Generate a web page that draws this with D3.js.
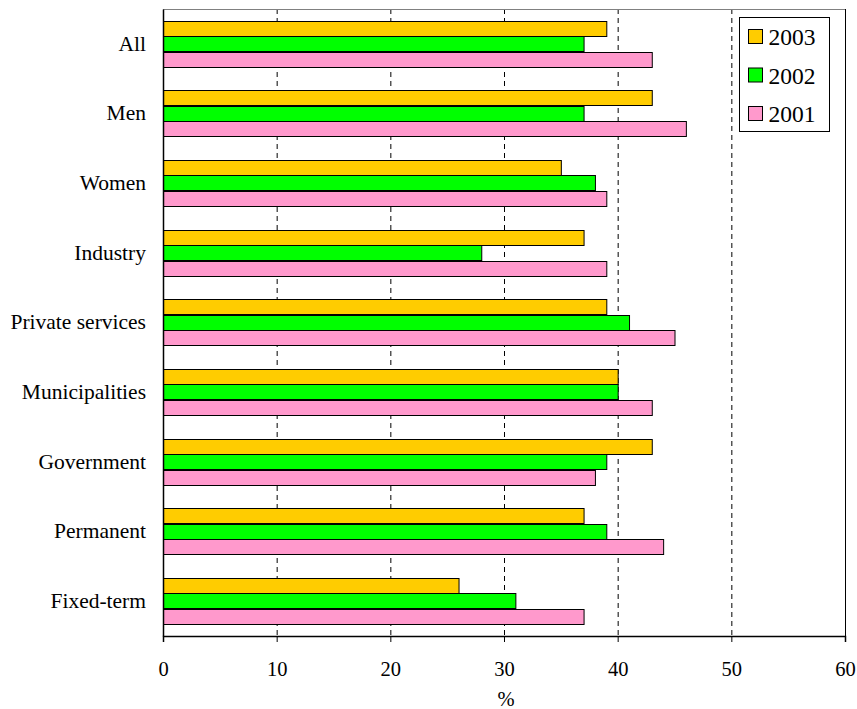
<!DOCTYPE html>
<html><head><meta charset="utf-8">
<script src="https://cdn.jsdelivr.net/npm/d3@7"></script>
<style>body{margin:0;background:#fff}svg{display:block}</style>
</head><body>
<script>
const categories = ["All","Men","Women","Industry","Private services","Municipalities","Government","Permanent","Fixed-term"];
const seriesNames = ["2003","2002","2001"];
const v2003 = [39,43,35,37,39,40,43,37,26];
const v2002 = [37,37,38,28,41,40,39,39,31];
const v2001 = [43,46,39,39,45,43,38,44,37];
const xTicks = [0,10,20,30,40,50,60];
const colors = ["#FFCC00","#00FF00","#FF99CC"];
const seriesValues = [v2003,v2002,v2001];

const W=857,H=709;
const m={l:163,r:845,t:9,b:636};
const svg=d3.select("body").append("svg").attr("width",W).attr("height",H)
  .style("font-family","Liberation Serif");
const font="Liberation Serif";
const x=d3.scaleLinear().domain([0,60]).range([m.l,m.r]);
const y=d3.scaleBand().domain(categories).range([m.t,m.b]).paddingInner(0.333).paddingOuter(0.1665);
const y1=d3.scaleBand().domain(seriesNames).range([0,y.bandwidth()]);

// gridlines
svg.append("g").selectAll("line").data(xTicks.filter(d=>d>0&&d<60)).join("line")
 .attr("x1",d=>x(d)+0.5).attr("x2",d=>x(d)+0.5).attr("y1",m.t).attr("y2",m.b)
 .attr("stroke","#000").attr("stroke-dasharray","5,4").attr("stroke-width",1);

// bars
const g=svg.append("g");
seriesNames.forEach((s,si)=>{
  g.append("g").selectAll("rect").data(categories).join("rect")
   .attr("x",x(0)+0.5).attr("y",(d)=>Math.round(y(d)+y1(s))+0.5)
   .attr("width",(d,i)=>x(seriesValues[si][i])-x(0))
   .attr("height",Math.round(y1.bandwidth()))
   .attr("fill",colors[si]).attr("stroke","#000").attr("stroke-width",1);
});

// frame
svg.append("line").attr("x1",m.l).attr("x2",m.r).attr("y1",m.t+0.5).attr("y2",m.t+0.5).attr("stroke","#808080");
svg.append("line").attr("x1",m.r+0.5).attr("x2",m.r+0.5).attr("y1",m.t).attr("y2",m.b).attr("stroke","#000");

// x axis
const xa=svg.append("g").attr("transform",`translate(0,${m.b})`)
 .call(d3.axisBottom(x).tickValues(xTicks).tickSize(6).tickPadding(19));
xa.attr("font-family",font).attr("font-size",20.5);
xa.select(".domain").attr("stroke","#000").attr("stroke-width",1.5);
xa.selectAll("text").attr("fill","#000");
// y axis
const ya=svg.append("g").attr("transform",`translate(${m.l},0)`)
 .call(d3.axisLeft(y).tickSize(0).tickPadding(17));
ya.attr("font-family",font).attr("font-size",21.5);
ya.select(".domain").attr("stroke","#000").attr("stroke-width",1.5);
ya.selectAll("text").attr("fill","#000");

svg.append("text").attr("x",x(30)+2).attr("y",706).attr("text-anchor","middle")
 .attr("font-family",font).attr("font-size",20.5).text("%");

// legend
const lg=svg.append("g");
lg.append("rect").attr("x",739.5).attr("y",17.5).attr("width",90).attr("height",114)
 .attr("fill","#fff").attr("stroke","#000");
seriesNames.forEach((s,i)=>{
  const cy=37+i*38.5;
  lg.append("rect").attr("x",748.5).attr("y",cy-7.5).attr("width",14).attr("height",14)
   .attr("fill",colors[i]).attr("stroke","#000");
  lg.append("text").attr("x",768.5).attr("y",cy).attr("dy","0.35em")
   .attr("font-family",font).attr("font-size",23.5).text(s);
});
</script>
</body></html>
